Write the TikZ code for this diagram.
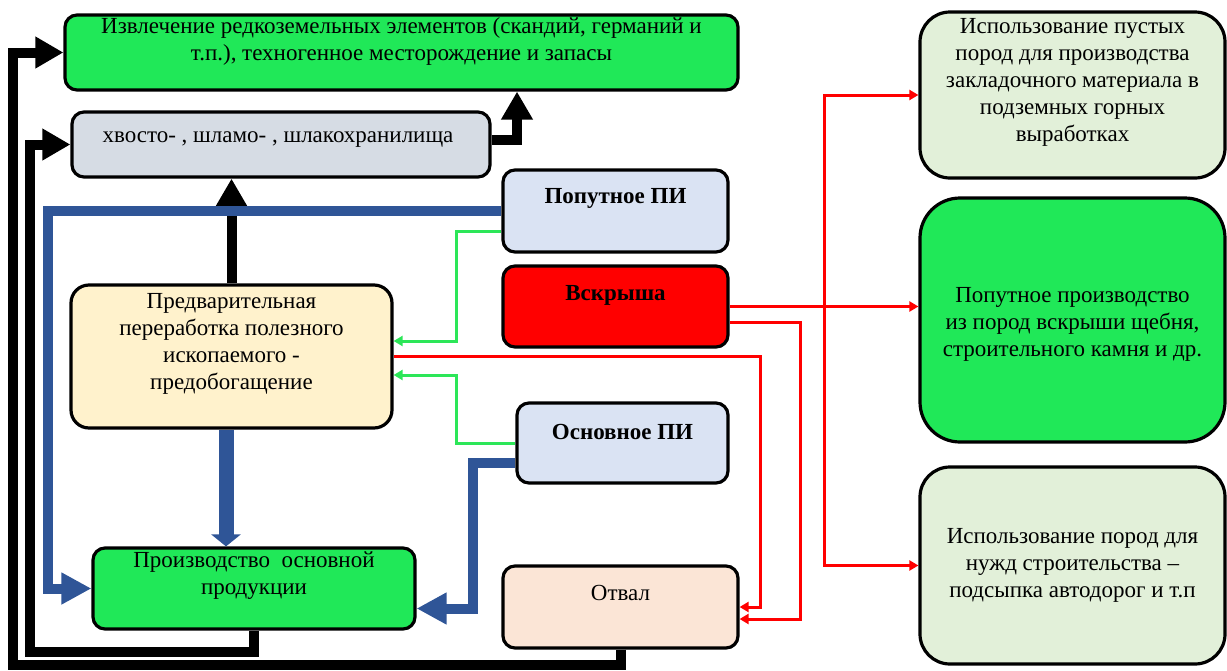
\documentclass[tikz,border=0pt]{standalone}
\usepackage{fontspec}
\setmainfont{Liberation Serif}
\usetikzlibrary{arrows.meta}
\definecolor{boxgreen}{RGB}{32,232,88}
\definecolor{hvostgray}{RGB}{214,220,228}
\definecolor{ltblue}{RGB}{218,227,243}
\definecolor{cream}{RGB}{255,242,204}
\definecolor{peach}{RGB}{251,229,214}
\definecolor{ltgreen}{RGB}{226,240,217}
\definecolor{darkblue}{RGB}{47,85,151}
\definecolor{linegreen}{RGB}{44,230,88}
\tikzstyle{box} = [draw=black, line width=1.6pt, rounded corners=6pt, inner sep=0pt]
\tikzstyle{txt} = [align=center, inner sep=0pt, font=\fontsize{11.5}{13.5}\selectfont]
\tikzstyle{btxt} = [txt, font=\fontsize{11.5}{13.5}\selectfont\bfseries]
\tikzstyle{blk} = [line width=5pt, -{Triangle[width=15pt,length=14pt]}]
\tikzstyle{blu} = [darkblue, line width=5pt, -{Triangle[width=15pt,length=15pt]}]
\tikzstyle{grn} = [linegreen, line width=1.5pt, -{Triangle[width=5pt,length=4.5pt]}]
\tikzstyle{rd} = [red, line width=1.5pt, -{Triangle[width=5pt,length=4.5pt]}]

\begin{document}
\begin{tikzpicture}[x=0.5pt, y=-0.5pt]
\useasboundingbox (0,0) rectangle (1227,670);

% boxes
\node[box, fill=boxgreen, minimum width=336.5pt, minimum height=37.5pt] (izvl) at (401.5,52.5) {};
\node[box, fill=hvostgray, minimum width=209pt, minimum height=32.5pt] (hvost) at (281,144.5) {};
\node[box, fill=ltblue, minimum width=112.5pt, minimum height=41pt] (poput) at (615.5,211) {};
\node[box, fill=red, minimum width=112.5pt, minimum height=40.5pt] (vskr) at (615.5,306.5) {};
\node[box, fill=ltblue, minimum width=105.5pt, minimum height=40pt] (osnov) at (622.5,443) {};
\node[box, fill=cream, rounded corners=9pt, minimum width=160.5pt, minimum height=71.5pt] (predv) at (231.5,356.5) {};
\node[box, fill=boxgreen, minimum width=161pt, minimum height=40.5pt] (prod) at (254,588.5) {};
\node[box, fill=peach, minimum width=117.5pt, minimum height=41pt] (otval) at (620.5,607) {};
\node[box, fill=ltgreen, rounded corners=15pt, minimum width=152.5pt, minimum height=83pt] (r1) at (1072.5,95) {};
\node[box, fill=boxgreen, rounded corners=20pt, minimum width=152.5pt, minimum height=122pt] (r2) at (1072.5,320) {};
\node[box, fill=ltgreen, rounded corners=15pt, minimum width=152.5pt, minimum height=98.5pt] (r3) at (1072.5,565.5) {};

% texts
\node[txt] (izvl_t) at (401.5,41.5) {Извлечение редкоземельных элементов (скандий, германий и\\т.п.), техногенное месторождение и запасы};
\node[txt] (hvost_t) at (278,140) {хвосто- , шламо- , шлакохранилища};
\node[btxt] (poput_t) at (615.5,198) {Попутное ПИ};
\node[btxt] (vskr_t) at (615.5,295) {Вскрыша};
\node[btxt] (osnov_t) at (622.5,432) {Основное ПИ};
\node[txt] (predv_t) at (231.5,344) {Предварительная\\переработка полезного\\ископаемого -\\предобогащение};
\node[txt] (prod_t) at (254,576) {Производство\ \ основной\\продукции};
\node[txt] (otval_t) at (620.5,593) {Отвал};
\node[txt] (r1_t) at (1072.5,82.5) {Использование пустых\\пород для производства\\закладочного материала в\\подземных горных\\выработках};
\node[txt] (r2_t) at (1072.5,324) {Попутное производство\\из пород вскрыши щебня,\\строительного камня и др.};
\node[txt] (r3_t) at (1072.5,565) {Использование пород для\\нужд строительства –\\подсыпка автодорог и т.п};

% black arrows
\coordinate (hbend) at (517,140);
\draw[blk] (predv.north) -- (predv.north |- hvost.south);
\draw[blk] (hvost.east |- hbend) -| (hbend |- izvl.south);
\draw[blk] (otval.south) |- (13,665) |- (izvl.west);
\draw[blk] (prod.south) |- (30,652) |- (hvost.west);

% blue arrows
\draw[blu] (poput.west) -| (48,588.5) -- (prod.west);
\draw[darkblue, line width=7.5pt, -{Triangle[width=14.5pt,length=6pt]}] ([xshift=-2.75pt]predv.south) -- ([xshift=-2.75pt]predv.south |- prod.north);
\draw[blu] ([yshift=-10pt]osnov.west) -| ([xshift=28pt,yshift=-10pt]prod.east) -- ([yshift=-10pt]prod.east);

% green arrows
\draw[grn] ([yshift=-10pt]poput.west) -| ([xshift=31.5pt,yshift=7.75pt]predv.east) -- ([yshift=7.75pt]predv.east);
\draw[grn] (osnov.west) -| ([xshift=31.5pt,yshift=-9.25pt]predv.east) -- ([yshift=-9.25pt]predv.east);

% red arrows
\coordinate (rsplit) at ([xshift=47.5pt]vskr.east);
\draw[rd] (predv.east) -| ([xshift=10.5pt]otval.east) -- (otval.east);
\draw[rd] ([yshift=-7.75pt]vskr.east) -| ([xshift=30.5pt,yshift=-6pt]otval.east) -- ([yshift=-6pt]otval.east);
\draw[rd] (vskr.east) -- (vskr.east -| r2.west);
\draw[rd] (rsplit) |- (r1.west);
\draw[rd] (rsplit) |- (r3.west);

\end{tikzpicture}
\end{document}
